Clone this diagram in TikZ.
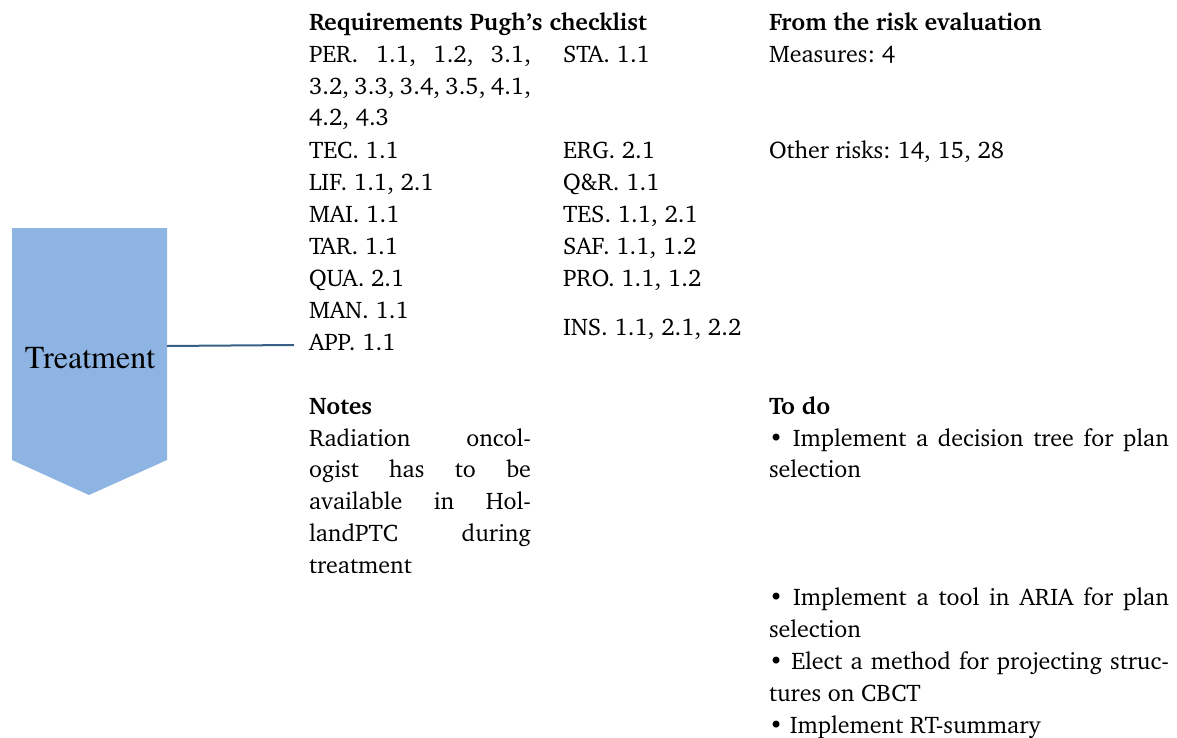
\documentclass[tikz,border=0pt]{standalone}
\usepackage[T1]{fontenc}
\usepackage{charter}
\usepackage{tikz}
\definecolor{chevblue}{HTML}{8EB4E3}
\definecolor{linkblue}{HTML}{3A5F87}
\tikzset{
	txt/.style={anchor=base west, inner sep=0pt, outer sep=0pt},
	head/.style={txt, font=\fontsize{12}{14}\selectfont\bfseries}
}
\newcommand{\fullline}[2]{\makebox[#1][s]{#2}}
\frenchspacing

\begin{document}
\begin{tikzpicture}[x=0.5pt, y=-0.5pt, font=\fontsize{12}{14}\selectfont]
			%%%%% START %%%%%
			\useasboundingbox (0, 0) rectangle (1177, 738);
			
			% chevron
			\fill[chevblue] (12, 228) -- (167, 228) -- (167, 460) -- (89, 495) -- (12, 460) -- cycle;
			\node[anchor=base, inner sep=0pt, font=\fontsize{16}{19}\fontfamily{ptm}\selectfont] (treat) at (90, 368) {Treatment};
			\coordinate (chevE) at (167, 346);
			\coordinate (linkend) at (294, 345);
			\draw[line width=1pt, color=linkblue] (chevE) -- (linkend);
			
			% requirements
			\node[head] (reqhead) at (309, 31) {Requirements Pugh's checklist};
			\node[txt] (per1) at (309, 63) {\fullline{111pt}{PER. 1.1, 1.2, 3.1,}};
			\node[txt] (per2) at (309, 95) {\fullline{111pt}{3.2, 3.3, 3.4, 3.5, 4.1,}};
			\node[txt] (per3) at (309, 126) {4.2, 4.3};
			\node[txt] (tec) at (309, 158) {TEC. 1.1};
			\node[txt] (lif) at (309, 190) {LIF. 1.1, 2.1};
			\node[txt] (mai) at (309, 222) {MAI. 1.1};
			\node[txt] (tar) at (309, 254) {TAR. 1.1};
			\node[txt] (qua) at (309, 286) {QUA. 2.1};
			\node[txt] (man) at (309, 318) {MAN. 1.1};
			\node[txt] (app) at (309, 350) {APP. 1.1};
			
			\node[txt] (sta) at (563, 63) {STA. 1.1};
			\node[txt] (erg) at (563, 158) {ERG. 2.1};
			\node[txt] (qr) at (563, 190) {Q\&R. 1.1};
			\node[txt] (tes) at (563, 222) {TES. 1.1, 2.1};
			\node[txt] (saf) at (563, 254) {SAF. 1.1, 1.2};
			\node[txt] (pro) at (563, 286) {PRO. 1.1, 1.2};
			\node[txt] (ins) at (563, 335) {INS. 1.1, 2.1, 2.2};
			
			% risk evaluation
			\node[head] (riskhead) at (769, 31) {From the risk evaluation};
			\node[txt] (measures) at (769, 63) {Measures: 4};
			\node[txt] (otherrisks) at (769, 158) {Other risks: 14, 15, 28};
			
			% notes
			\node[head] (noteshead) at (309, 414) {Notes};
			\node[txt] (note1) at (309, 446) {\fullline{111pt}{Radiation oncol-}};
			\node[txt] (note2) at (309, 477) {\fullline{111pt}{ogist has to be}};
			\node[txt] (note3) at (309, 509) {\fullline{111pt}{available in Hol-}};
			\node[txt] (note4) at (309, 541) {\fullline{111pt}{landPTC during}};
			\node[txt] (note5) at (309, 573) {treatment};
			
			% to do
			\node[head] (todohead) at (769, 414) {To do};
			\node[txt] (todo1) at (769, 446) {\fullline{200pt}{\textbullet\ Implement a decision tree for plan}};
			\node[txt] (todo1b) at (769, 477) {selection};
			\node[txt] (todo2) at (769, 605) {\fullline{200pt}{\textbullet\ Implement a tool in ARIA for plan}};
			\node[txt] (todo2b) at (769, 637) {selection};
			\node[txt] (todo3) at (769, 669) {\fullline{200pt}{\textbullet\ Elect a method for projecting struc-}};
			\node[txt] (todo3b) at (769, 701) {tures on CBCT};
			\node[txt] (todo4) at (769, 733) {\textbullet\ Implement RT-summary};
			
			%%%%% END %%%%%
		\end{tikzpicture}
\end{document}
